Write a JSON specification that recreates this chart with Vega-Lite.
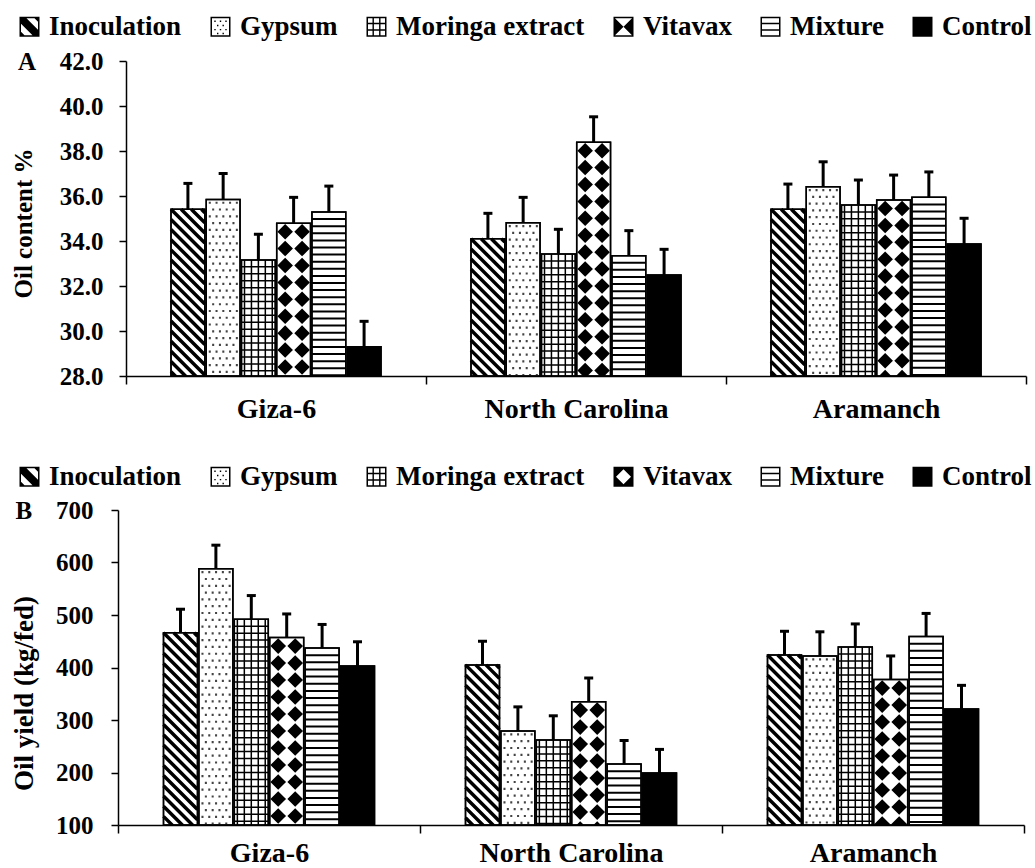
{
 "$schema": "https://vega.github.io/schema/vega-lite/v6.json",
 "padding": {"left": 10, "top": 13, "right": 0, "bottom": 0},
 "background": "white",
 "datasets": {"d": [
  {"cultivar":"Giza-6","treatment":"Inoculation","oil":35.41,"oilHi":36.56,"yield":466,"yieldHi":511},
  {"cultivar":"Giza-6","treatment":"Gypsum","oil":35.85,"oilHi":37.0,"yield":588,"yieldHi":633},
  {"cultivar":"Giza-6","treatment":"Moringa extract","oil":33.16,"oilHi":34.30,"yield":492,"yieldHi":537},
  {"cultivar":"Giza-6","treatment":"Vitavax","oil":34.79,"oilHi":35.94,"yield":457,"yieldHi":502},
  {"cultivar":"Giza-6","treatment":"Mixture","oil":35.29,"oilHi":36.44,"yield":437,"yieldHi":482},
  {"cultivar":"Giza-6","treatment":"Control","oil":29.30,"oilHi":30.43,"yield":403,"yieldHi":449},
  {"cultivar":"North Carolina","treatment":"Inoculation","oil":34.10,"oilHi":35.23,"yield":405,"yieldHi":450},
  {"cultivar":"North Carolina","treatment":"Gypsum","oil":34.81,"oilHi":35.94,"yield":279,"yieldHi":325},
  {"cultivar":"North Carolina","treatment":"Moringa extract","oil":33.42,"oilHi":34.52,"yield":262,"yieldHi":308},
  {"cultivar":"North Carolina","treatment":"Vitavax","oil":38.39,"oilHi":39.52,"yield":335,"yieldHi":380},
  {"cultivar":"North Carolina","treatment":"Mixture","oil":33.35,"oilHi":34.46,"yield":216,"yieldHi":261},
  {"cultivar":"North Carolina","treatment":"Control","oil":32.49,"oilHi":33.63,"yield":199,"yieldHi":244},
  {"cultivar":"Aramanch","treatment":"Inoculation","oil":35.41,"oilHi":36.53,"yield":424,"yieldHi":469},
  {"cultivar":"Aramanch","treatment":"Gypsum","oil":36.41,"oilHi":37.52,"yield":422,"yieldHi":468},
  {"cultivar":"Aramanch","treatment":"Moringa extract","oil":35.60,"oilHi":36.71,"yield":439,"yieldHi":483},
  {"cultivar":"Aramanch","treatment":"Vitavax","oil":35.82,"oilHi":36.93,"yield":377,"yieldHi":422},
  {"cultivar":"Aramanch","treatment":"Mixture","oil":35.94,"oilHi":37.07,"yield":459,"yieldHi":503},
  {"cultivar":"Aramanch","treatment":"Control","oil":33.87,"oilHi":35.01,"yield":321,"yieldHi":366}
 ]},
 "spacing": 40,
 "resolve": {"scale": {"x": "independent", "y": "independent", "xOffset": "independent", "shape": "independent"}},
 "vconcat": [
  {
   "width": 908, "height": 315,
   "data": {"name": "d"},
   "encoding": {
    "x": {"field": "cultivar", "type": "nominal", "sort": ["Giza-6","North Carolina","Aramanch"], "scale": {"paddingInner": 0, "paddingOuter": 0, "range": [8, 908]}, "title": null,
          "axis": {"labelAngle": 0, "tickBand": "extent", "tickSize": 8, "labelPadding": 11, "labelFontSize": 28, "labelLimit": 400}},
    "xOffset": {"field": "treatment", "type": "nominal", "scale": {"domain": ["Inoculation","Gypsum","Moringa extract","Vitavax","Mixture","Control"], "paddingInner": 0.04, "paddingOuter": 0, "range": [45, 255]}}
   },
   "layer": [
    {"mark": {"type": "bar", "stroke": "black", "strokeWidth": 1.5},
     "encoding": {
      "y": {"field": "oil", "type": "quantitative", "scale": {"domain": [28, 42], "nice": false, "zero": false}, "title": "Oil content %",
            "axis": {"values": [28,30,32,34,36,38,40,42], "labelExpr": "datum.value == 42 ? 'A\u00a0\u00a0\u00a0\u2009' + format(datum.value, '.1f') : format(datum.value, '.1f')", "labelPadding": 16, "titleX": -90, "titleY": 162, "offset": -8}},
      "y2": {"datum": 28},
      "fill": {"condition": {"test": "datum.treatment == 'Control'", "value": "black"}, "value": "white"}
     }},
    {"transform": [{"filter": "datum.treatment == 'Inoculation'"}],
     "mark": {"type": "point", "shape": "M0.8,0L1,0.2M0.2,0L1,0.8M-0.4,0L1,1.4M-1,0L1,2M-1,0.6L1,2.6M-1,1.2L1,3.2M-1,1.8L1,3.8M-1,2.4L1,4.4M-1,3L1,5M-1,3.6L1,5.6M-1,4.2L1,6.2M-1,4.8L1,6.8M-1,5.4L1,7.4M-1,6L1,8M-1,6.6L1,8.6M-1,7.2L1,9.2M-1,7.8L1,9.8M-1,8.4L1,10.4M-1,9L1,11M-1,9.6L1,11.6M-1,10.2L1,12.2M-1,10.8L1,12.8M-1,11.4L1,13.4M-1,12L1,14M-1,12.6L1,14.6M-1,13.2L1,15.2M-1,13.8L1,15.8M-1,14.4L1,16.4M-1,15L1,17M-1,15.6L1,17.6M-1,16.2L1,18.2", "size": 1144, "filled": false, "stroke": "black", "strokeWidth": 3.5, "opacity": 1, "clip": true},
     "encoding": {"y": {"field": "oil", "type": "quantitative"}}},
    {"transform": [{"filter": "datum.treatment == 'Gypsum'"}],
     "mark": {"type": "point", "shape": "M-0.85,0.2h0.12M-0.45,0.2h0.12M-0.05,0.2h0.12M0.35,0.2h0.12M0.75,0.2h0.12M-0.65,0.6h0.12M-0.25,0.6h0.12M0.15,0.6h0.12M0.55,0.6h0.12M-0.85,1h0.12M-0.45,1h0.12M-0.05,1h0.12M0.35,1h0.12M0.75,1h0.12M-0.65,1.4h0.12M-0.25,1.4h0.12M0.15,1.4h0.12M0.55,1.4h0.12M-0.85,1.8h0.12M-0.45,1.8h0.12M-0.05,1.8h0.12M0.35,1.8h0.12M0.75,1.8h0.12M-0.65,2.2h0.12M-0.25,2.2h0.12M0.15,2.2h0.12M0.55,2.2h0.12M-0.85,2.6h0.12M-0.45,2.6h0.12M-0.05,2.6h0.12M0.35,2.6h0.12M0.75,2.6h0.12M-0.65,3h0.12M-0.25,3h0.12M0.15,3h0.12M0.55,3h0.12M-0.85,3.4h0.12M-0.45,3.4h0.12M-0.05,3.4h0.12M0.35,3.4h0.12M0.75,3.4h0.12M-0.65,3.8h0.12M-0.25,3.8h0.12M0.15,3.8h0.12M0.55,3.8h0.12M-0.85,4.2h0.12M-0.45,4.2h0.12M-0.05,4.2h0.12M0.35,4.2h0.12M0.75,4.2h0.12M-0.65,4.6h0.12M-0.25,4.6h0.12M0.15,4.6h0.12M0.55,4.6h0.12M-0.85,5h0.12M-0.45,5h0.12M-0.05,5h0.12M0.35,5h0.12M0.75,5h0.12M-0.65,5.4h0.12M-0.25,5.4h0.12M0.15,5.4h0.12M0.55,5.4h0.12M-0.85,5.8h0.12M-0.45,5.8h0.12M-0.05,5.8h0.12M0.35,5.8h0.12M0.75,5.8h0.12M-0.65,6.2h0.12M-0.25,6.2h0.12M0.15,6.2h0.12M0.55,6.2h0.12M-0.85,6.6h0.12M-0.45,6.6h0.12M-0.05,6.6h0.12M0.35,6.6h0.12M0.75,6.6h0.12M-0.65,7h0.12M-0.25,7h0.12M0.15,7h0.12M0.55,7h0.12M-0.85,7.4h0.12M-0.45,7.4h0.12M-0.05,7.4h0.12M0.35,7.4h0.12M0.75,7.4h0.12M-0.65,7.8h0.12M-0.25,7.8h0.12M0.15,7.8h0.12M0.55,7.8h0.12M-0.85,8.2h0.12M-0.45,8.2h0.12M-0.05,8.2h0.12M0.35,8.2h0.12M0.75,8.2h0.12M-0.65,8.6h0.12M-0.25,8.6h0.12M0.15,8.6h0.12M0.55,8.6h0.12M-0.85,9h0.12M-0.45,9h0.12M-0.05,9h0.12M0.35,9h0.12M0.75,9h0.12M-0.65,9.4h0.12M-0.25,9.4h0.12M0.15,9.4h0.12M0.55,9.4h0.12M-0.85,9.8h0.12M-0.45,9.8h0.12M-0.05,9.8h0.12M0.35,9.8h0.12M0.75,9.8h0.12M-0.65,10.2h0.12M-0.25,10.2h0.12M0.15,10.2h0.12M0.55,10.2h0.12M-0.85,10.6h0.12M-0.45,10.6h0.12M-0.05,10.6h0.12M0.35,10.6h0.12M0.75,10.6h0.12M-0.65,11h0.12M-0.25,11h0.12M0.15,11h0.12M0.55,11h0.12M-0.85,11.4h0.12M-0.45,11.4h0.12M-0.05,11.4h0.12M0.35,11.4h0.12M0.75,11.4h0.12M-0.65,11.8h0.12M-0.25,11.8h0.12M0.15,11.8h0.12M0.55,11.8h0.12M-0.85,12.2h0.12M-0.45,12.2h0.12M-0.05,12.2h0.12M0.35,12.2h0.12M0.75,12.2h0.12M-0.65,12.6h0.12M-0.25,12.6h0.12M0.15,12.6h0.12M0.55,12.6h0.12M-0.85,13h0.12M-0.45,13h0.12M-0.05,13h0.12M0.35,13h0.12M0.75,13h0.12M-0.65,13.4h0.12M-0.25,13.4h0.12M0.15,13.4h0.12M0.55,13.4h0.12M-0.85,13.8h0.12M-0.45,13.8h0.12M-0.05,13.8h0.12M0.35,13.8h0.12M0.75,13.8h0.12M-0.65,14.2h0.12M-0.25,14.2h0.12M0.15,14.2h0.12M0.55,14.2h0.12M-0.85,14.6h0.12M-0.45,14.6h0.12M-0.05,14.6h0.12M0.35,14.6h0.12M0.75,14.6h0.12M-0.65,15h0.12M-0.25,15h0.12M0.15,15h0.12M0.55,15h0.12M-0.85,15.4h0.12M-0.45,15.4h0.12M-0.05,15.4h0.12M0.35,15.4h0.12M0.75,15.4h0.12", "size": 1144, "filled": false, "stroke": "#444444", "strokeWidth": 2.2, "opacity": 1, "clip": true},
     "encoding": {"y": {"field": "oil", "type": "quantitative"}}},
    {"transform": [{"filter": "datum.treatment == 'Moringa extract'"}],
     "mark": {"type": "point", "shape": "M-0.82,0V16.5M-0.41,0V16.5M0,0V16.5M0.41,0V16.5M0.82,0V16.5M-1,0.41H1M-1,0.82H1M-1,1.23H1M-1,1.64H1M-1,2.05H1M-1,2.46H1M-1,2.87H1M-1,3.28H1M-1,3.69H1M-1,4.1H1M-1,4.51H1M-1,4.92H1M-1,5.33H1M-1,5.74H1M-1,6.15H1M-1,6.56H1M-1,6.97H1M-1,7.38H1M-1,7.79H1M-1,8.2H1M-1,8.61H1M-1,9.02H1M-1,9.43H1M-1,9.84H1M-1,10.25H1M-1,10.66H1M-1,11.07H1M-1,11.48H1M-1,11.89H1M-1,12.3H1M-1,12.71H1M-1,13.12H1M-1,13.53H1M-1,13.94H1M-1,14.35H1M-1,14.76H1M-1,15.17H1M-1,15.58H1M-1,15.99H1M-1,16.4H1", "size": 1144, "filled": false, "stroke": "black", "strokeWidth": 1.5, "opacity": 1, "clip": true},
     "encoding": {"y": {"field": "oil", "type": "quantitative"}}},
    {"transform": [{"filter": "datum.treatment == 'Vitavax'"}],
     "mark": {"type": "point", "shape": "M-0.5,0.04L-0.04,0.5L-0.5,0.96L-0.96,0.5ZM0.5,0.04L0.96,0.5L0.5,0.96L0.04,0.5ZM-0.5,1.04L-0.04,1.5L-0.5,1.96L-0.96,1.5ZM0.5,1.04L0.96,1.5L0.5,1.96L0.04,1.5ZM-0.5,2.04L-0.04,2.5L-0.5,2.96L-0.96,2.5ZM0.5,2.04L0.96,2.5L0.5,2.96L0.04,2.5ZM-0.5,3.04L-0.04,3.5L-0.5,3.96L-0.96,3.5ZM0.5,3.04L0.96,3.5L0.5,3.96L0.04,3.5ZM-0.5,4.04L-0.04,4.5L-0.5,4.96L-0.96,4.5ZM0.5,4.04L0.96,4.5L0.5,4.96L0.04,4.5ZM-0.5,5.04L-0.04,5.5L-0.5,5.96L-0.96,5.5ZM0.5,5.04L0.96,5.5L0.5,5.96L0.04,5.5ZM-0.5,6.04L-0.04,6.5L-0.5,6.96L-0.96,6.5ZM0.5,6.04L0.96,6.5L0.5,6.96L0.04,6.5ZM-0.5,7.04L-0.04,7.5L-0.5,7.96L-0.96,7.5ZM0.5,7.04L0.96,7.5L0.5,7.96L0.04,7.5ZM-0.5,8.04L-0.04,8.5L-0.5,8.96L-0.96,8.5ZM0.5,8.04L0.96,8.5L0.5,8.96L0.04,8.5ZM-0.5,9.04L-0.04,9.5L-0.5,9.96L-0.96,9.5ZM0.5,9.04L0.96,9.5L0.5,9.96L0.04,9.5ZM-0.5,10.04L-0.04,10.5L-0.5,10.96L-0.96,10.5ZM0.5,10.04L0.96,10.5L0.5,10.96L0.04,10.5ZM-0.5,11.04L-0.04,11.5L-0.5,11.96L-0.96,11.5ZM0.5,11.04L0.96,11.5L0.5,11.96L0.04,11.5ZM-0.5,12.04L-0.04,12.5L-0.5,12.96L-0.96,12.5ZM0.5,12.04L0.96,12.5L0.5,12.96L0.04,12.5ZM-0.5,13.04L-0.04,13.5L-0.5,13.96L-0.96,13.5ZM0.5,13.04L0.96,13.5L0.5,13.96L0.04,13.5ZM-0.5,14.04L-0.04,14.5L-0.5,14.96L-0.96,14.5ZM0.5,14.04L0.96,14.5L0.5,14.96L0.04,14.5Z", "size": 1144, "filled": true, "color": "black", "strokeWidth": 0, "opacity": 1, "clip": true},
     "encoding": {"y": {"field": "oil", "type": "quantitative"}}},
    {"transform": [{"filter": "datum.treatment == 'Mixture'"}],
     "mark": {"type": "point", "shape": "M-1,0.42H1M-1,0.84H1M-1,1.26H1M-1,1.68H1M-1,2.1H1M-1,2.52H1M-1,2.94H1M-1,3.36H1M-1,3.78H1M-1,4.2H1M-1,4.62H1M-1,5.04H1M-1,5.46H1M-1,5.88H1M-1,6.3H1M-1,6.72H1M-1,7.14H1M-1,7.56H1M-1,7.98H1M-1,8.4H1M-1,8.82H1M-1,9.24H1M-1,9.66H1M-1,10.08H1M-1,10.5H1M-1,10.92H1M-1,11.34H1M-1,11.76H1M-1,12.18H1M-1,12.6H1M-1,13.02H1M-1,13.44H1M-1,13.86H1M-1,14.28H1M-1,14.7H1M-1,15.12H1M-1,15.54H1M-1,15.96H1M-1,16.38H1", "size": 1144, "filled": false, "stroke": "black", "strokeWidth": 2, "opacity": 1, "clip": true},
     "encoding": {"y": {"field": "oil", "type": "quantitative"}}},
    {"mark": {"type": "bar", "fill": "transparent", "stroke": "black", "strokeWidth": 1.5},
     "encoding": {"y": {"field": "oil", "type": "quantitative"}, "y2": {"datum": 28}}},
    {"mark": {"type": "rule", "color": "black", "strokeWidth": 3},
     "encoding": {"y": {"field": "oil", "type": "quantitative"}, "y2": {"field": "oilHi"}}},
    {"mark": {"type": "tick", "color": "black", "thickness": 3, "size": 9, "opacity": 1},
     "encoding": {"y": {"field": "oilHi", "type": "quantitative"}}},
    {"transform": [{"filter": "false"}],
     "mark": {"type": "point", "filled": true, "color": "black", "strokeWidth": 0, "opacity": 1},
     "encoding": {"shape": {"field": "treatment", "type": "nominal",
       "scale": {"domain": ["Inoculation","Gypsum","Moringa extract","Vitavax","Mixture","Control"],
                 "range": ["M-1,-1H1V1H-1ZM-0.85,-0.85V0.85H0.85V-0.85ZM-1,-1L-0.45,-1L1,0.45L1,1L0.45,1L-1,-0.45ZM0.35,-1L1,-1L1,-0.35ZM-1,0.35L-0.35,1L-1,1Z",
                           "M-1,-1H1V1H-1ZM-0.85,-0.85V0.85H0.85V-0.85ZM-0.62,-0.62h0.14v0.14h-0.14ZM-0.07,-0.62h0.14v0.14h-0.14ZM0.48,-0.62h0.14v0.14h-0.14ZM-0.35,-0.2h0.14v0.14h-0.14ZM0.2,-0.2h0.14v0.14h-0.14ZM-0.62,0.22h0.14v0.14h-0.14ZM-0.07,0.22h0.14v0.14h-0.14ZM0.48,0.22h0.14v0.14h-0.14ZM-0.35,0.6h0.14v0.14h-0.14ZM0.2,0.6h0.14v0.14h-0.14Z",
                           "M-1,-1H1V1H-1ZM-0.85,-0.85V0.85H0.85V-0.85ZM-0.4,-1H-0.26V1H-0.4ZM0.26,-1H0.4V1H0.26ZM-1,-0.4H1V-0.26H-1ZM-1,0.26H1V0.4H-1Z",
                           "M-1,-1H1V1H-1ZM-0.85,-0.85V0.85H0.85V-0.85ZM-1,-1L0,0L-1,1ZM1,-1L1,1L0,0Z",
                           "M-1,-1H1V1H-1ZM-0.85,-0.85V0.85H0.85V-0.85ZM-1,-0.4H1V-0.26H-1ZM-1,0.26H1V0.4H-1Z",
                           "M-1,-1H1V1H-1Z"]},
       "legend": {"orient": "none", "legendX": -102, "legendY": -48, "direction": "horizontal", "columns": 6, "title": null,
                  "symbolSize": 400, "symbolStrokeWidth": 0, "symbolFillColor": "black", "symbolOpacity": 1,
                  "labelFont": "Liberation Serif", "labelFontSize": 27, "labelFontWeight": "bold", "labelColor": "black",
                  "labelOffset": 6, "columnPadding": 25, "padding": 0, "labelLimit": 500}}}}
   ]
  },
  {
   "width": 906, "height": 315,
   "data": {"name": "d"},
   "encoding": {
    "x": {"field": "cultivar", "type": "nominal", "sort": ["Giza-6","North Carolina","Aramanch"], "scale": {"paddingInner": 0, "paddingOuter": 0}, "title": null,
          "axis": {"labelAngle": 0, "tickBand": "extent", "tickSize": 8, "labelPadding": 6, "labelFontSize": 28, "labelLimit": 400}},
    "xOffset": {"field": "treatment", "type": "nominal", "scale": {"domain": ["Inoculation","Gypsum","Moringa extract","Vitavax","Mixture","Control"], "paddingInner": 0.04, "paddingOuter": 0, "range": [45.5, 256.5]}}
   },
   "layer": [
    {"mark": {"type": "bar", "stroke": "black", "strokeWidth": 1.5},
     "encoding": {
      "y": {"field": "yield", "type": "quantitative", "scale": {"domain": [100, 700], "nice": false, "zero": false}, "title": "Oil yield (kg/fed)",
            "axis": {"values": [100,200,300,400,500,600,700], "labelExpr": "datum.value == 700 ? 'B\u00a0\u00a0\u00a0\u2009' + format(datum.value, 'd') : format(datum.value, 'd')", "labelPadding": 18, "titleX": -80, "titleY": 183, "titleFontSize": 27}},
      "y2": {"datum": 100},
      "fill": {"condition": {"test": "datum.treatment == 'Control'", "value": "black"}, "value": "white"}
     }},
    {"transform": [{"filter": "datum.treatment == 'Inoculation'"}],
     "mark": {"type": "point", "shape": "M0.8,0L1,0.2M0.2,0L1,0.8M-0.4,0L1,1.4M-1,0L1,2M-1,0.6L1,2.6M-1,1.2L1,3.2M-1,1.8L1,3.8M-1,2.4L1,4.4M-1,3L1,5M-1,3.6L1,5.6M-1,4.2L1,6.2M-1,4.8L1,6.8M-1,5.4L1,7.4M-1,6L1,8M-1,6.6L1,8.6M-1,7.2L1,9.2M-1,7.8L1,9.8M-1,8.4L1,10.4M-1,9L1,11M-1,9.6L1,11.6M-1,10.2L1,12.2M-1,10.8L1,12.8M-1,11.4L1,13.4M-1,12L1,14M-1,12.6L1,14.6M-1,13.2L1,15.2M-1,13.8L1,15.8M-1,14.4L1,16.4M-1,15L1,17M-1,15.6L1,17.6M-1,16.2L1,18.2", "size": 1155, "filled": false, "stroke": "black", "strokeWidth": 3.5, "opacity": 1, "clip": true},
     "encoding": {"y": {"field": "yield", "type": "quantitative"}}},
    {"transform": [{"filter": "datum.treatment == 'Gypsum'"}],
     "mark": {"type": "point", "shape": "M-0.85,0.2h0.12M-0.45,0.2h0.12M-0.05,0.2h0.12M0.35,0.2h0.12M0.75,0.2h0.12M-0.65,0.6h0.12M-0.25,0.6h0.12M0.15,0.6h0.12M0.55,0.6h0.12M-0.85,1h0.12M-0.45,1h0.12M-0.05,1h0.12M0.35,1h0.12M0.75,1h0.12M-0.65,1.4h0.12M-0.25,1.4h0.12M0.15,1.4h0.12M0.55,1.4h0.12M-0.85,1.8h0.12M-0.45,1.8h0.12M-0.05,1.8h0.12M0.35,1.8h0.12M0.75,1.8h0.12M-0.65,2.2h0.12M-0.25,2.2h0.12M0.15,2.2h0.12M0.55,2.2h0.12M-0.85,2.6h0.12M-0.45,2.6h0.12M-0.05,2.6h0.12M0.35,2.6h0.12M0.75,2.6h0.12M-0.65,3h0.12M-0.25,3h0.12M0.15,3h0.12M0.55,3h0.12M-0.85,3.4h0.12M-0.45,3.4h0.12M-0.05,3.4h0.12M0.35,3.4h0.12M0.75,3.4h0.12M-0.65,3.8h0.12M-0.25,3.8h0.12M0.15,3.8h0.12M0.55,3.8h0.12M-0.85,4.2h0.12M-0.45,4.2h0.12M-0.05,4.2h0.12M0.35,4.2h0.12M0.75,4.2h0.12M-0.65,4.6h0.12M-0.25,4.6h0.12M0.15,4.6h0.12M0.55,4.6h0.12M-0.85,5h0.12M-0.45,5h0.12M-0.05,5h0.12M0.35,5h0.12M0.75,5h0.12M-0.65,5.4h0.12M-0.25,5.4h0.12M0.15,5.4h0.12M0.55,5.4h0.12M-0.85,5.8h0.12M-0.45,5.8h0.12M-0.05,5.8h0.12M0.35,5.8h0.12M0.75,5.8h0.12M-0.65,6.2h0.12M-0.25,6.2h0.12M0.15,6.2h0.12M0.55,6.2h0.12M-0.85,6.6h0.12M-0.45,6.6h0.12M-0.05,6.6h0.12M0.35,6.6h0.12M0.75,6.6h0.12M-0.65,7h0.12M-0.25,7h0.12M0.15,7h0.12M0.55,7h0.12M-0.85,7.4h0.12M-0.45,7.4h0.12M-0.05,7.4h0.12M0.35,7.4h0.12M0.75,7.4h0.12M-0.65,7.8h0.12M-0.25,7.8h0.12M0.15,7.8h0.12M0.55,7.8h0.12M-0.85,8.2h0.12M-0.45,8.2h0.12M-0.05,8.2h0.12M0.35,8.2h0.12M0.75,8.2h0.12M-0.65,8.6h0.12M-0.25,8.6h0.12M0.15,8.6h0.12M0.55,8.6h0.12M-0.85,9h0.12M-0.45,9h0.12M-0.05,9h0.12M0.35,9h0.12M0.75,9h0.12M-0.65,9.4h0.12M-0.25,9.4h0.12M0.15,9.4h0.12M0.55,9.4h0.12M-0.85,9.8h0.12M-0.45,9.8h0.12M-0.05,9.8h0.12M0.35,9.8h0.12M0.75,9.8h0.12M-0.65,10.2h0.12M-0.25,10.2h0.12M0.15,10.2h0.12M0.55,10.2h0.12M-0.85,10.6h0.12M-0.45,10.6h0.12M-0.05,10.6h0.12M0.35,10.6h0.12M0.75,10.6h0.12M-0.65,11h0.12M-0.25,11h0.12M0.15,11h0.12M0.55,11h0.12M-0.85,11.4h0.12M-0.45,11.4h0.12M-0.05,11.4h0.12M0.35,11.4h0.12M0.75,11.4h0.12M-0.65,11.8h0.12M-0.25,11.8h0.12M0.15,11.8h0.12M0.55,11.8h0.12M-0.85,12.2h0.12M-0.45,12.2h0.12M-0.05,12.2h0.12M0.35,12.2h0.12M0.75,12.2h0.12M-0.65,12.6h0.12M-0.25,12.6h0.12M0.15,12.6h0.12M0.55,12.6h0.12M-0.85,13h0.12M-0.45,13h0.12M-0.05,13h0.12M0.35,13h0.12M0.75,13h0.12M-0.65,13.4h0.12M-0.25,13.4h0.12M0.15,13.4h0.12M0.55,13.4h0.12M-0.85,13.8h0.12M-0.45,13.8h0.12M-0.05,13.8h0.12M0.35,13.8h0.12M0.75,13.8h0.12M-0.65,14.2h0.12M-0.25,14.2h0.12M0.15,14.2h0.12M0.55,14.2h0.12M-0.85,14.6h0.12M-0.45,14.6h0.12M-0.05,14.6h0.12M0.35,14.6h0.12M0.75,14.6h0.12M-0.65,15h0.12M-0.25,15h0.12M0.15,15h0.12M0.55,15h0.12M-0.85,15.4h0.12M-0.45,15.4h0.12M-0.05,15.4h0.12M0.35,15.4h0.12M0.75,15.4h0.12", "size": 1155, "filled": false, "stroke": "#444444", "strokeWidth": 2.2, "opacity": 1, "clip": true},
     "encoding": {"y": {"field": "yield", "type": "quantitative"}}},
    {"transform": [{"filter": "datum.treatment == 'Moringa extract'"}],
     "mark": {"type": "point", "shape": "M-0.82,0V16.5M-0.41,0V16.5M0,0V16.5M0.41,0V16.5M0.82,0V16.5M-1,0.41H1M-1,0.82H1M-1,1.23H1M-1,1.64H1M-1,2.05H1M-1,2.46H1M-1,2.87H1M-1,3.28H1M-1,3.69H1M-1,4.1H1M-1,4.51H1M-1,4.92H1M-1,5.33H1M-1,5.74H1M-1,6.15H1M-1,6.56H1M-1,6.97H1M-1,7.38H1M-1,7.79H1M-1,8.2H1M-1,8.61H1M-1,9.02H1M-1,9.43H1M-1,9.84H1M-1,10.25H1M-1,10.66H1M-1,11.07H1M-1,11.48H1M-1,11.89H1M-1,12.3H1M-1,12.71H1M-1,13.12H1M-1,13.53H1M-1,13.94H1M-1,14.35H1M-1,14.76H1M-1,15.17H1M-1,15.58H1M-1,15.99H1M-1,16.4H1", "size": 1155, "filled": false, "stroke": "black", "strokeWidth": 1.5, "opacity": 1, "clip": true},
     "encoding": {"y": {"field": "yield", "type": "quantitative"}}},
    {"transform": [{"filter": "datum.treatment == 'Vitavax'"}],
     "mark": {"type": "point", "shape": "M-0.5,0.04L-0.04,0.5L-0.5,0.96L-0.96,0.5ZM0.5,0.04L0.96,0.5L0.5,0.96L0.04,0.5ZM-0.5,1.04L-0.04,1.5L-0.5,1.96L-0.96,1.5ZM0.5,1.04L0.96,1.5L0.5,1.96L0.04,1.5ZM-0.5,2.04L-0.04,2.5L-0.5,2.96L-0.96,2.5ZM0.5,2.04L0.96,2.5L0.5,2.96L0.04,2.5ZM-0.5,3.04L-0.04,3.5L-0.5,3.96L-0.96,3.5ZM0.5,3.04L0.96,3.5L0.5,3.96L0.04,3.5ZM-0.5,4.04L-0.04,4.5L-0.5,4.96L-0.96,4.5ZM0.5,4.04L0.96,4.5L0.5,4.96L0.04,4.5ZM-0.5,5.04L-0.04,5.5L-0.5,5.96L-0.96,5.5ZM0.5,5.04L0.96,5.5L0.5,5.96L0.04,5.5ZM-0.5,6.04L-0.04,6.5L-0.5,6.96L-0.96,6.5ZM0.5,6.04L0.96,6.5L0.5,6.96L0.04,6.5ZM-0.5,7.04L-0.04,7.5L-0.5,7.96L-0.96,7.5ZM0.5,7.04L0.96,7.5L0.5,7.96L0.04,7.5ZM-0.5,8.04L-0.04,8.5L-0.5,8.96L-0.96,8.5ZM0.5,8.04L0.96,8.5L0.5,8.96L0.04,8.5ZM-0.5,9.04L-0.04,9.5L-0.5,9.96L-0.96,9.5ZM0.5,9.04L0.96,9.5L0.5,9.96L0.04,9.5ZM-0.5,10.04L-0.04,10.5L-0.5,10.96L-0.96,10.5ZM0.5,10.04L0.96,10.5L0.5,10.96L0.04,10.5ZM-0.5,11.04L-0.04,11.5L-0.5,11.96L-0.96,11.5ZM0.5,11.04L0.96,11.5L0.5,11.96L0.04,11.5ZM-0.5,12.04L-0.04,12.5L-0.5,12.96L-0.96,12.5ZM0.5,12.04L0.96,12.5L0.5,12.96L0.04,12.5ZM-0.5,13.04L-0.04,13.5L-0.5,13.96L-0.96,13.5ZM0.5,13.04L0.96,13.5L0.5,13.96L0.04,13.5ZM-0.5,14.04L-0.04,14.5L-0.5,14.96L-0.96,14.5ZM0.5,14.04L0.96,14.5L0.5,14.96L0.04,14.5Z", "size": 1155, "filled": true, "color": "black", "strokeWidth": 0, "opacity": 1, "clip": true},
     "encoding": {"y": {"field": "yield", "type": "quantitative"}}},
    {"transform": [{"filter": "datum.treatment == 'Mixture'"}],
     "mark": {"type": "point", "shape": "M-1,0.42H1M-1,0.84H1M-1,1.26H1M-1,1.68H1M-1,2.1H1M-1,2.52H1M-1,2.94H1M-1,3.36H1M-1,3.78H1M-1,4.2H1M-1,4.62H1M-1,5.04H1M-1,5.46H1M-1,5.88H1M-1,6.3H1M-1,6.72H1M-1,7.14H1M-1,7.56H1M-1,7.98H1M-1,8.4H1M-1,8.82H1M-1,9.24H1M-1,9.66H1M-1,10.08H1M-1,10.5H1M-1,10.92H1M-1,11.34H1M-1,11.76H1M-1,12.18H1M-1,12.6H1M-1,13.02H1M-1,13.44H1M-1,13.86H1M-1,14.28H1M-1,14.7H1M-1,15.12H1M-1,15.54H1M-1,15.96H1M-1,16.38H1", "size": 1155, "filled": false, "stroke": "black", "strokeWidth": 2, "opacity": 1, "clip": true},
     "encoding": {"y": {"field": "yield", "type": "quantitative"}}},
    {"mark": {"type": "bar", "fill": "transparent", "stroke": "black", "strokeWidth": 1.5},
     "encoding": {"y": {"field": "yield", "type": "quantitative"}, "y2": {"datum": 100}}},
    {"mark": {"type": "rule", "color": "black", "strokeWidth": 3},
     "encoding": {"y": {"field": "yield", "type": "quantitative"}, "y2": {"field": "yieldHi"}}},
    {"mark": {"type": "tick", "color": "black", "thickness": 3, "size": 9, "opacity": 1},
     "encoding": {"y": {"field": "yieldHi", "type": "quantitative"}}},
    {"transform": [{"filter": "false"}],
     "mark": {"type": "point", "filled": true, "color": "black", "strokeWidth": 0, "opacity": 1},
     "encoding": {"shape": {"field": "treatment", "type": "nominal",
       "scale": {"domain": ["Inoculation","Gypsum","Moringa extract","Vitavax","Mixture","Control"],
                 "range": ["M-1,-1H1V1H-1ZM-0.85,-0.85V0.85H0.85V-0.85ZM-1,-1L-0.45,-1L1,0.45L1,1L0.45,1L-1,-0.45ZM0.35,-1L1,-1L1,-0.35ZM-1,0.35L-0.35,1L-1,1Z",
                           "M-1,-1H1V1H-1ZM-0.85,-0.85V0.85H0.85V-0.85ZM-0.62,-0.62h0.14v0.14h-0.14ZM-0.07,-0.62h0.14v0.14h-0.14ZM0.48,-0.62h0.14v0.14h-0.14ZM-0.35,-0.2h0.14v0.14h-0.14ZM0.2,-0.2h0.14v0.14h-0.14ZM-0.62,0.22h0.14v0.14h-0.14ZM-0.07,0.22h0.14v0.14h-0.14ZM0.48,0.22h0.14v0.14h-0.14ZM-0.35,0.6h0.14v0.14h-0.14ZM0.2,0.6h0.14v0.14h-0.14Z",
                           "M-1,-1H1V1H-1ZM-0.85,-0.85V0.85H0.85V-0.85ZM-0.4,-1H-0.26V1H-0.4ZM0.26,-1H0.4V1H0.26ZM-1,-0.4H1V-0.26H-1ZM-1,0.26H1V0.4H-1Z",
                           "M-1,-1H1V1H-1ZM0,-0.75L-0.75,0L0,0.75L0.75,0Z",
                           "M-1,-1H1V1H-1ZM-0.85,-0.85V0.85H0.85V-0.85ZM-1,-0.4H1V-0.26H-1ZM-1,0.26H1V0.4H-1Z",
                           "M-1,-1H1V1H-1Z"]},
       "legend": {"orient": "none", "legendX": -102, "legendY": -47, "direction": "horizontal", "columns": 6, "title": null,
                  "symbolSize": 400, "symbolStrokeWidth": 0, "symbolFillColor": "black", "symbolOpacity": 1,
                  "labelFont": "Liberation Serif", "labelFontSize": 27, "labelFontWeight": "bold", "labelColor": "black",
                  "labelOffset": 6, "columnPadding": 25, "padding": 0, "labelLimit": 500}}}}
   ]
  }
 ],
 "config": {
  "font": "Liberation Serif",
  "view": {"stroke": null},
  "axis": {"labelFont": "Liberation Serif", "labelFontSize": 25, "labelFontWeight": "bold", "labelColor": "black",
           "titleFont": "Liberation Serif", "titleFontSize": 25, "titleFontWeight": "bold", "titleColor": "black",
           "domainColor": "black", "domainWidth": 1.5, "tickColor": "black", "tickWidth": 1.5, "tickSize": 7, "grid": false}
 }
}
